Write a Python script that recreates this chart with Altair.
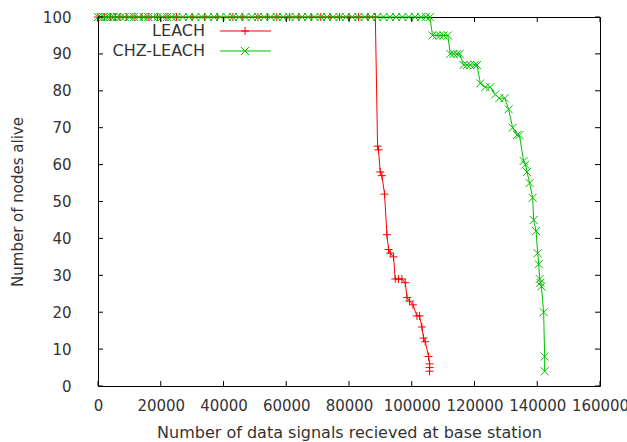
import altair as alt
import pandas as pd

# ---------------- data ----------------
leach_x = [0, 2000, 4000, 5500, 7000, 9000, 11500, 14000, 16000, 19000, 22000, 25000,
           30000, 34000, 38000, 43000, 46000, 51000, 54000, 57000, 61000, 64000, 68000,
           71000, 74000, 77000, 80000, 83000, 86000, 88400,
           89100, 89400, 89950, 90500, 91330, 92090, 92600, 93140, 94200, 94740, 95790,
           96870, 97930, 98470, 99300, 100380, 101650, 102490, 103250, 103760, 104300,
           105360, 105680, 105680, 105680]
leach_y = [100, 100, 100, 100, 100, 100, 100, 100, 100, 100, 100, 100,
           100, 100, 100, 100, 100, 100, 100, 100, 100, 100, 100,
           100, 100, 100, 100, 100, 100, 100,
           65, 64, 58, 57, 52, 41, 37, 36, 35, 29, 29,
           29, 28, 24, 23, 22, 19, 19, 16, 13, 12,
           8, 6, 5, 4]

chz_x = [0, 800, 1700, 2500, 3300, 4200, 5000, 6000, 7200, 8500, 10000, 11500, 13000,
         14500, 16000, 17500, 19000, 20500, 22000, 23500, 25000, 27000, 29000, 31000,
         33000, 35000, 37000, 39000, 41000, 43000, 45000, 47000, 49000, 51000, 53000,
         55000, 57000, 59000, 61000, 63000, 65000, 67000, 69000, 71000, 73000, 75000,
         77000, 79000, 81000, 83000, 85000, 87000, 89000, 91000, 93000, 95000, 97000,
         99000, 101000, 103000, 104500, 105800,
         106600, 108000, 109000, 110100, 111500,
         112280, 113340, 114420, 115250,
         116530, 117600, 118660, 120040, 120800,
         121850, 123440, 125040, 126630, 127900, 129600, 130880, 132150, 133560, 134300,
         135660, 136200, 136750, 137580, 138540, 138860, 139620, 140130, 140470, 140770,
         141000, 141320, 142040, 142360, 142360]
chz_y = [100, 100, 100, 100, 100, 100, 100, 100, 100, 100, 100, 100, 100,
         100, 100, 100, 100, 100, 100, 100, 100, 100, 100, 100,
         100, 100, 100, 100, 100, 100, 100, 100, 100, 100, 100,
         100, 100, 100, 100, 100, 100, 100, 100, 100, 100, 100,
         100, 100, 100, 100, 100, 100, 100, 100, 100, 100, 100,
         100, 100, 100, 100, 100,
         95, 95, 95, 95, 95,
         90, 90, 90, 90,
         87, 87, 87, 87, 87,
         82, 81, 81, 79, 78, 78, 75, 70, 68, 68,
         61, 60, 58, 55, 51, 45, 42, 36, 33, 29,
         28, 27, 20, 8, 4]

series_names = ["LEACH", "CHZ-LEACH"]
series_colors = ["#ff0000", "#00c000"]
x_ticks = [0, 20000, 40000, 60000, 80000, 100000, 120000, 140000, 160000]
y_ticks = [0, 10, 20, 30, 40, 50, 60, 70, 80, 90, 100]

PLUS = "M-1,0L1,0M0,-1L0,1"
CROSS = "M-1,-1L1,1M-1,1L1,-1"

df_leach = pd.DataFrame({"x": leach_x, "y": leach_y, "idx": range(len(leach_x))})
df_chz = pd.DataFrame({"x": chz_x, "y": chz_y, "idx": range(len(chz_x))})

W, H = 502, 369
FONT = "DejaVu Sans"
FS = 15
TXT = "#333333"

xs = alt.Scale(domain=[0, 160000], nice=False, zero=False)
ys = alt.Scale(domain=[0, 100], nice=False, zero=False)

x_axis = alt.Axis(values=x_ticks, format="d", ticks=False, domain=False, grid=False,
                  labelFont=FONT, labelFontSize=FS, labelColor=TXT, labelPadding=12,
                  labelOverlap=False, labelBound=False, labelFlush=False,
                  title="Number of data signals recieved at base station",
                  titleFont=FONT, titleFontSize=16, titleColor=TXT,
                  titleFontWeight="normal", titlePadding=11)
y_axis = alt.Axis(values=y_ticks, format="d", ticks=False, domain=False, grid=False,
                  labelFont=FONT, labelFontSize=FS, labelColor=TXT, labelPadding=27,
                  labelOverlap=False, labelBound=False, labelFlush=False,
                  title="Number of nodes alive",
                  titleFont=FONT, titleFontSize=FS, titleColor=TXT,
                  titleFontWeight="normal", titlePadding=17)


def X(field):
    return alt.X(field, scale=xs, axis=x_axis)


def Y(field):
    return alt.Y(field, scale=ys, axis=y_axis)


def series_layers(df, color, shape):
    line = alt.Chart(df).mark_line(color=color, strokeWidth=1, clip=False).encode(
        x=X("x:Q"), y=Y("y:Q"), order="idx:Q")
    pts = alt.Chart(df).mark_point(shape=shape, color=color, filled=False, size=64,
                                   strokeWidth=1, opacity=1, clip=False).encode(
        x=X("x:Q"), y=Y("y:Q"))
    return [line, pts]


xt = pd.DataFrame({"v": x_ticks})
yt = pd.DataFrame({"v": y_ticks})
tick_layers = [
    alt.Chart(xt).mark_rule(color="black", strokeWidth=1).encode(
        x=X("v:Q"), y=alt.value(H), y2=alt.value(H - 5)),
    alt.Chart(xt).mark_rule(color="black", strokeWidth=1).encode(
        x=X("v:Q"), y=alt.value(0), y2=alt.value(5)),
    alt.Chart(yt).mark_rule(color="black", strokeWidth=1).encode(
        y=Y("v:Q"), x=alt.value(0), x2=alt.value(5)),
    alt.Chart(yt).mark_rule(color="black", strokeWidth=1).encode(
        y=Y("v:Q"), x=alt.value(W), x2=alt.value(W - 5)),
]

one = pd.DataFrame({"a": [0]})
legend_layers = []
for name, col, shp, ly in [(series_names[0], series_colors[0], PLUS, 14),
                           (series_names[1], series_colors[1], CROSS, 34)]:
    legend_layers += [
        alt.Chart(one).mark_text(align="right", baseline="middle", font=FONT,
                                 fontSize=16, color=TXT, text=name).encode(
            x=alt.value(107), y=alt.value(ly)),
        alt.Chart(one).mark_rule(color=col, strokeWidth=1).encode(
            x=alt.value(122), x2=alt.value(173), y=alt.value(ly)),
        alt.Chart(one).mark_point(shape=shp, color=col, filled=False, size=64,
                                  strokeWidth=1, opacity=1).encode(
            x=alt.value(147), y=alt.value(ly)),
    ]

layers = (series_layers(df_leach, series_colors[0], PLUS)
          + series_layers(df_chz, series_colors[1], CROSS)
          + tick_layers + legend_layers)

chart = alt.layer(*layers).properties(
    width=W, height=H,
    autosize=alt.AutoSizeParams(type="none"),
    padding={"left": 98, "top": 17, "right": 27, "bottom": 56},
    background="white",
).configure_view(stroke="black", strokeWidth=1)

chart.save("out.html", embed_options={"renderer": "svg", "actions": False})
